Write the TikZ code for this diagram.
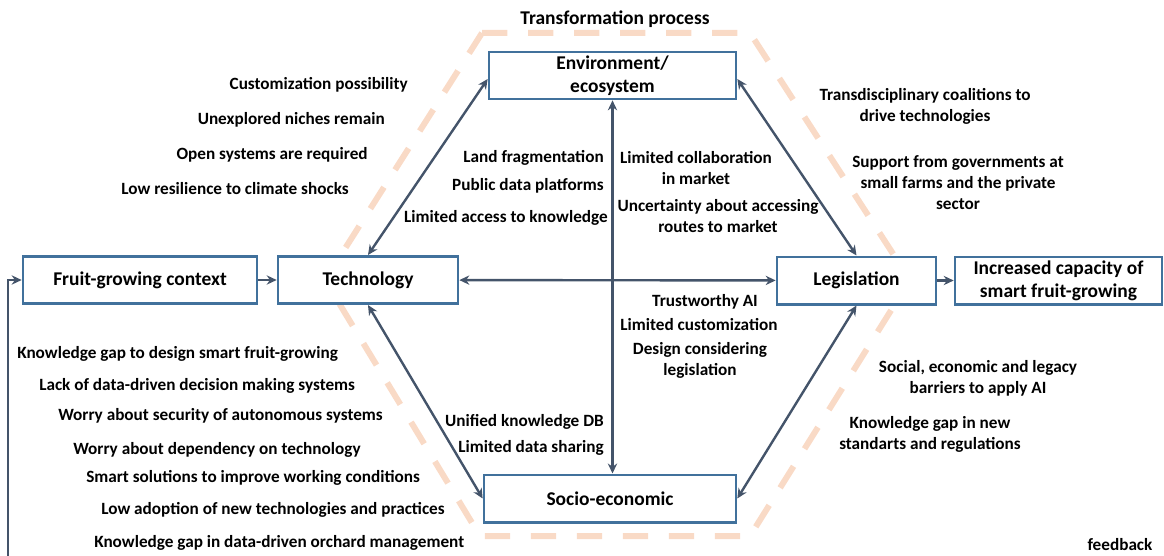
\documentclass[tikz,border=0pt]{standalone}
\usepackage{fontspec}
\setmainfont{Carlito}
\usetikzlibrary{arrows.meta,calc}
\definecolor{boxblue}{HTML}{41719C}
\definecolor{arrowslate}{HTML}{44546A}
\definecolor{peach}{HTML}{F9DAC6}
\begin{document}
\begin{tikzpicture}[x=0.75pt,y=-0.75pt,
  every node/.style={font=\fontsize{12.9}{15.75}\selectfont\bfseries, inner sep=0pt},
  box/.style={draw=boxblue, line width=2pt, fill=white, align=center,
    minimum height=35.5pt, font=\fontsize{14.6}{17.25}\selectfont\bfseries},
  link/.style={draw=arrowslate, line width=1.8pt, {Stealth[length=7.5pt,width=7pt]}-{Stealth[length=7.5pt,width=7pt]}},
  oneway/.style={draw=arrowslate, line width=1.8pt, -{Stealth[length=7.5pt,width=7pt]}},
  note/.style={align=center},
  hexline/.style={draw=peach, line width=4.5pt, dash pattern=on 19pt off 15.5pt}]
\useasboundingbox (0,0) rectangle (1164,556);

% transformation process outline
\draw[hexline] (482,33) -- (750,33) -- (910,280) -- (750,536) -- (480,536) -- (325,280) -- cycle;
\node at (615,19) {\fontsize{14.6}{17}\selectfont Transformation process};

% boxes
\node[box, minimum width=175.5pt] (fruit) at (140,280) {Fruit-growing context};
\node[box, minimum width=135pt] (tech) at (368,280) {Technology};
\node[box, minimum width=185.25pt, minimum height=35.25pt] (env) at (612.5,75.5) {Environment/\\ecosystem};
\node[box, minimum width=119.25pt] (legis) at (856.5,280.5) {Legislation};
\node[box, minimum width=155.25pt] (incr) at (1058.5,280.5) {Increased capacity of\\smart fruit-growing};
\node[box, minimum width=189pt] (socio) at (610,498.5) {Socio-economic};

% connectors
\draw[oneway] (fruit) -- (tech);
\draw[oneway] (legis) -- (incr);
\draw[link] (tech) -- (legis);
\draw[link] (tech.north) -- ($(env.west)+(0,3.5)$);
\draw[link] ($(env.east)+(0,3.5)$) -- (legis.north);
\draw[link] (tech.south) -- (socio.west);
\draw[link] (legis.south) -- (socio.east);
\draw[link] (env.south) -- (env.south |- socio.north);
\coordinate (fb) at (8,556);
\draw[oneway] (fb) |- (fruit.west);

\begin{scope}[yshift=-1.5pt]
\node at (1120,543) {feedback};

% technology factors, upper left
\node[anchor=east] at (408,83) {Customization possibility};
\node[anchor=east] at (385,118) {Unexplored niches remain};
\node[anchor=east] at (368,153) {Open systems are required};
\node[anchor=east] at (349,187) {Low resilience to climate shocks};

% factors between technology and environment
\node[anchor=east] at (604,156) {Land fragmentation};
\node[anchor=east] at (604,184) {Public data platforms};
\node[anchor=east] at (608,216) {Limited access to knowledge};

% factors between environment and legislation
\node[note] at (696,166) {Limited collaboration\\in market};
\node[note] at (718,214) {Uncertainty about accessing\\routes to market};
\node[note] at (925,104) {Transdisciplinary coalitions to\\drive technologies};
\node[note] at (958,181) {Support from governments at\\small farms and the private\\sector};

% factors between legislation and socio-economic
\node[note] at (705,300) {Trustworthy AI};
\node[note] at (699,323) {Limited customization};
\node[note] at (700,358) {Design considering\\legislation};
\node[note] at (978,376) {Social, economic and legacy\\barriers to apply AI};
\node[note] at (930,432) {Knowledge gap in new\\standarts and regulations};

% factors between technology and socio-economic
\node[anchor=east] at (604,420) {Unified knowledge DB};
\node[anchor=east] at (604,446) {Limited data sharing};

% socio-economic factors, lower left
\node[anchor=west] at (17,352) {Knowledge gap to design smart fruit-growing};
\node[anchor=west] at (39,384) {Lack of data-driven decision making systems};
\node[anchor=west] at (58,414) {Worry about security of autonomous systems};
\node[anchor=west] at (73,448) {Worry about dependency on technology};
\node[anchor=west] at (86,476) {Smart solutions to improve working conditions};
\node[anchor=west] at (101,508) {Low adoption of new technologies and practices};
\node[anchor=west] at (94,541) {Knowledge gap in data-driven orchard management};
\end{scope}
\end{tikzpicture}
\end{document}
